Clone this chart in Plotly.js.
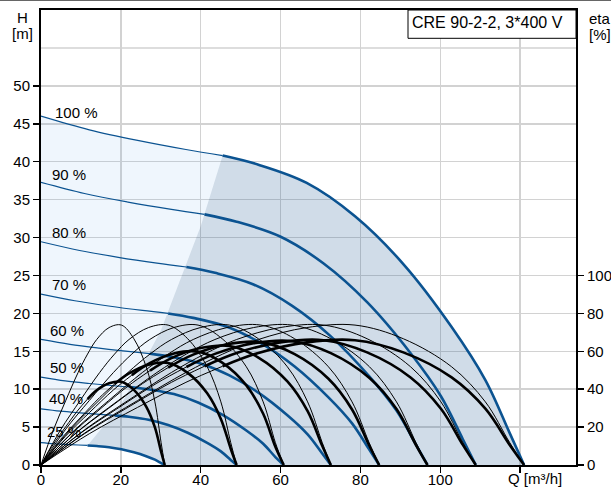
<!DOCTYPE html>
<html><head><meta charset="utf-8">
<script src="https://cdn.plot.ly/plotly-3.0.1.min.js"></script>
<style>html,body{margin:0;padding:0;background:#fff}#chart{width:611px;height:489px}</style>
</head><body><div id="chart"></div>
<script>
// speed labels
const speedLabels = ['100 %','90 %','80 %','70 %','60 %','50 %','40 %','25 %'];
// label positions (Q, H)
const labelQ = [3.0, 2.3, 2.3, 2.3, 1.8, 1.8, 1.6, 1.0];
const labelH = [46.5, 38.3, 30.6, 23.8, 17.8, 12.9, 8.8, 4.4];

// flow values (m3/h) for each speed curve
const q100 = [0, 12.1, 24.2, 36.3, 45.5, 54.45, 66.55, 78.65, 90.75, 102.85, 111.3, 117.4, 121];
const q90  = [0, 10.89, 21.78, 32.67, 40.95, 49.0, 59.9, 70.79, 81.68, 92.57, 100.17, 105.66, 108.9];
const q80  = [0, 9.68, 19.36, 29.04, 36.4, 43.56, 53.24, 62.92, 72.6, 82.28, 89.04, 93.92, 96.8];
const q70  = [0, 8.47, 16.94, 25.41, 31.85, 38.12, 46.59, 55.06, 63.53, 72.0, 77.91, 82.18, 84.7];
const q60  = [0, 7.26, 14.52, 21.78, 27.3, 32.67, 39.93, 47.19, 54.45, 61.71, 66.78, 70.44, 72.6];
const q50  = [0, 6.05, 12.1, 18.15, 22.75, 27.23, 33.28, 39.33, 45.38, 51.43, 55.65, 58.7, 60.8];
const q40  = [0, 4.9, 9.8, 14.7, 18.42, 22.04, 26.94, 31.84, 36.74, 41.63, 45.05, 47.52, 49];
const q25  = [0, 3.1, 6.2, 9.3, 11.66, 13.95, 17.06, 20.15, 23.26, 26.35, 28.53, 30.08, 31];

// head values (m)
const h100 = [46, 44.2, 42.8, 41.6, 40.8, 39.6, 37.2, 32.8, 26.5, 18.2, 11.2, 4.2, 0];
const h90  = [37.26, 35.8, 34.67, 33.7, 33.05, 32.08, 30.13, 26.57, 21.47, 14.74, 9.07, 3.4, 0];
const h80  = [29.44, 28.29, 27.39, 26.62, 26.11, 25.34, 23.81, 20.99, 16.96, 11.65, 7.17, 2.69, 0];
const h70  = [22.54, 21.66, 20.97, 20.38, 19.99, 19.4, 18.23, 16.07, 12.99, 8.92, 5.49, 2.06, 0];
const h60  = [16.56, 15.91, 15.41, 14.98, 14.69, 14.26, 13.39, 11.81, 9.54, 6.55, 4.03, 1.51, 0];
const h50  = [11.6, 11.1, 10.75, 10.45, 10.25, 9.95, 9.35, 8.25, 6.65, 4.55, 2.8, 1.05, 0];
const h40  = [7.4, 7.1, 6.88, 6.68, 6.55, 6.36, 5.97, 5.27, 4.25, 2.92, 1.8, 0.67, 0];
const h25  = [2.94, 2.8, 2.72, 2.64, 2.58, 2.5, 2.35, 2.07, 1.67, 1.15, 0.7, 0.26, 0];

// pump efficiency (%) - same for every speed
const etaPump = [0, 18.5, 34, 48.8, 58.5, 66.2, 72.5, 73.8, 66.6, 51.8, 33.3, 11.8, 0];
// total efficiency (%) per speed
const etaT100 = [0, 16.5, 30.4, 43.6, 52.1, 59.1, 64.7, 65.8, 59.4, 46.2, 29.7, 10.6, 0];
const etaT90  = [0, 16.5, 30.4, 43.6, 52.1, 59.1, 64.7, 65.8, 59.4, 46.2, 29.7, 10.6, 0];
const etaT80  = [0, 16.4, 30.1, 43.2, 51.7, 58.6, 64.2, 65.3, 59.0, 45.9, 29.5, 10.5, 0];
const etaT70  = [0, 16.3, 29.9, 42.9, 51.4, 58.2, 63.7, 64.8, 58.5, 45.5, 29.3, 10.4, 0];
const etaT60  = [0, 15.8, 29.0, 41.6, 49.8, 56.4, 61.7, 62.8, 56.7, 44.1, 28.4, 10.1, 0];
const etaT50  = [0, 15.0, 27.6, 39.6, 47.4, 53.7, 58.8, 59.8, 54.0, 42.0, 27.0, 9.6, 0];
const etaT40  = [0, 13.5, 24.8, 35.6, 42.7, 48.3, 52.9, 53.8, 48.6, 37.8, 24.3, 8.6, 0];
const etaT25  = [0, 11.0, 20.2, 29.0, 34.8, 39.4, 43.1, 43.9, 39.6, 30.8, 19.8, 7.0, 0];

// minimum-flow boundary line
const minQ = [11.66, 20, 30, 40, 45.5];
const minH = [2.58, 7.9, 17.7, 31.5, 40.8];

const xTicks = [0, 20, 40, 60, 80, 100, 120];
const xTickText = ['0', '20', '40', '60', '80', '100', ''];
const yTicks = [0, 5, 10, 15, 20, 25, 30, 35, 40, 45, 50];
const y2Ticks = [0, 20, 40, 60, 80, 100];

const Qs = [q100, q90, q80, q70, q60, q50, q40, q25];
const Hs = [h100, h90, h80, h70, h60, h50, h40, h25];
const ETs = [etaT100, etaT90, etaT80, etaT70, etaT60, etaT50, etaT40, etaT25];
const SPLIT = 4;

const BLUE = '#0b5391';
const traces = [];

// light region
const lightX = q100.slice(0, SPLIT + 1).concat(minQ.slice().reverse(), q25.slice(0, SPLIT + 1).reverse());
const lightY = h100.slice(0, SPLIT + 1).concat(minH.slice().reverse(), h25.slice(0, SPLIT + 1).reverse());
traces.push({x: lightX, y: lightY, mode: 'lines', fill: 'toself', fillcolor: 'rgba(80,160,235,0.09)', line: {width: 0}, hoverinfo: 'skip', showlegend: false});
// dark region
const darkX = minQ.concat(q100.slice(SPLIT), q25.slice(SPLIT).reverse());
const darkY = minH.concat(h100.slice(SPLIT), h25.slice(SPLIT).reverse());
traces.push({x: darkX, y: darkY, mode: 'lines', fill: 'toself', fillcolor: 'rgba(20,80,140,0.2)', line: {width: 0}, hoverinfo: 'skip', showlegend: false});

// efficiency curves
for (let i = 0; i < Qs.length; i++) {
  traces.push({x: Qs[i], y: etaPump, yaxis: 'y2', mode: 'lines', line: {color: '#000', width: 1, shape: 'spline'}, hoverinfo: 'skip', showlegend: false});
  traces.push({x: Qs[i].slice(0, SPLIT + 1), y: ETs[i].slice(0, SPLIT + 1), yaxis: 'y2', mode: 'lines', line: {color: '#000', width: 1, shape: 'spline'}, hoverinfo: 'skip', showlegend: false});
  traces.push({x: Qs[i].slice(SPLIT), y: ETs[i].slice(SPLIT), yaxis: 'y2', mode: 'lines', line: {color: '#000', width: 2.6, shape: 'spline'}, hoverinfo: 'skip', showlegend: false});
}
// pump curves
for (let i = 0; i < Qs.length; i++) {
  traces.push({x: Qs[i].slice(0, SPLIT + 1), y: Hs[i].slice(0, SPLIT + 1), mode: 'lines', line: {color: BLUE, width: 1.2, shape: 'spline'}, hoverinfo: 'skip', showlegend: false});
  traces.push({x: Qs[i].slice(SPLIT), y: Hs[i].slice(SPLIT), mode: 'lines', line: {color: BLUE, width: 2.6, shape: 'spline'}, hoverinfo: 'skip', showlegend: false});
}

const FONT = 'Liberation Sans, Arial, sans-serif';
const annotations = speedLabels.map((t, i) => ({x: labelQ[i], y: labelH[i], xref: 'x', yref: 'y', text: t, showarrow: false, xanchor: 'left', yanchor: 'middle', font: {size: 15, color: '#000', family: FONT}}));
const H = 455, W = 535;
function py(p) { return (465 - p) / H; }
function px(p) { return (p - 41) / W; }
annotations.push({x: px(22), y: py(17.5), xref: 'paper', yref: 'paper', text: 'H', showarrow: false, xanchor: 'center', yanchor: 'middle', font: {size: 15, color: '#000', family: FONT}});
annotations.push({x: px(22.5), y: py(33), xref: 'paper', yref: 'paper', text: '[m]', showarrow: false, xanchor: 'center', yanchor: 'middle', font: {size: 15, color: '#000', family: FONT}});
annotations.push({x: px(587), y: py(18.5), xref: 'paper', yref: 'paper', text: 'eta', showarrow: false, xanchor: 'left', yanchor: 'middle', font: {size: 15, color: '#000', family: FONT}});
annotations.push({x: px(587), y: py(34.5), xref: 'paper', yref: 'paper', text: '[%]', showarrow: false, xanchor: 'left', yanchor: 'middle', font: {size: 15, color: '#000', family: FONT}});
annotations.push({x: px(410), y: py(22), xref: 'paper', yref: 'paper', text: 'CRE 90-2-2, 3*400 V', showarrow: false, xanchor: 'left', yanchor: 'middle', font: {size: 16, color: '#000', family: FONT}});
annotations.push({x: 120, y: py(479), xref: 'x', yref: 'paper', text: 'Q [m³/h]', showarrow: false, xanchor: 'left', yanchor: 'middle', xshift: -14, font: {size: 15, color: '#000', family: FONT}});

const shapes = [
  {type: 'line', xref: 'x', yref: 'y', x0: 0, x1: 134, y0: 55, y1: 55, line: {color: '#d2d2d2', width: 1.5}, layer: 'below'},
  {type: 'rect', xref: 'paper', yref: 'paper', x0: px(408), x1: 1, y0: py(38.3), y1: 1, line: {color: '#000', width: 1}, fillcolor: '#fff', layer: 'above'},
  {type: 'line', xref: 'paper', yref: 'paper', x0: px(0), x1: px(611), y0: py(0), y1: py(0), line: {color: '#666', width: 2}}
];

const layout = {
  width: 611, height: 489,
  margin: {l: 41, r: 35, t: 10, b: 24, pad: 0},
  paper_bgcolor: '#fff', plot_bgcolor: '#fff',
  showlegend: false,
  font: {family: FONT, size: 15, color: '#000'},
  xaxis: {range: [0, 134], tickvals: xTicks, ticktext: xTickText, showgrid: true, gridcolor: '#d2d2d2', gridwidth: 1.5,
    zeroline: false, showline: true, linecolor: '#000', linewidth: 2, mirror: true, ticks: 'outside', ticklen: 6, tickwidth: 1.5, tickcolor: '#000',
    ticklabelstandoff: -6, tickfont: {size: 15, family: FONT}, fixedrange: true},
  yaxis: {range: [0, 60], tickvals: yTicks, showgrid: true, gridcolor: '#d2d2d2', gridwidth: 1.5,
    zeroline: false, showline: true, linecolor: '#000', linewidth: 2, ticks: 'outside', ticklen: 6, tickwidth: 1.5, tickcolor: '#000',
    tickfont: {size: 15, family: FONT}, fixedrange: true},
  yaxis2: {range: [0, 240], overlaying: 'y', side: 'right', tickvals: y2Ticks, showgrid: false, zeroline: false,
    showline: true, linecolor: '#000', linewidth: 2, ticks: 'outside', ticklen: 6, tickwidth: 1.5, tickcolor: '#000',
    tickfont: {size: 15, family: FONT}, fixedrange: true},
  annotations: annotations,
  shapes: shapes
};

Plotly.newPlot('chart', traces, layout, {staticPlot: true, displayModeBar: false});
</script>
</body></html>
